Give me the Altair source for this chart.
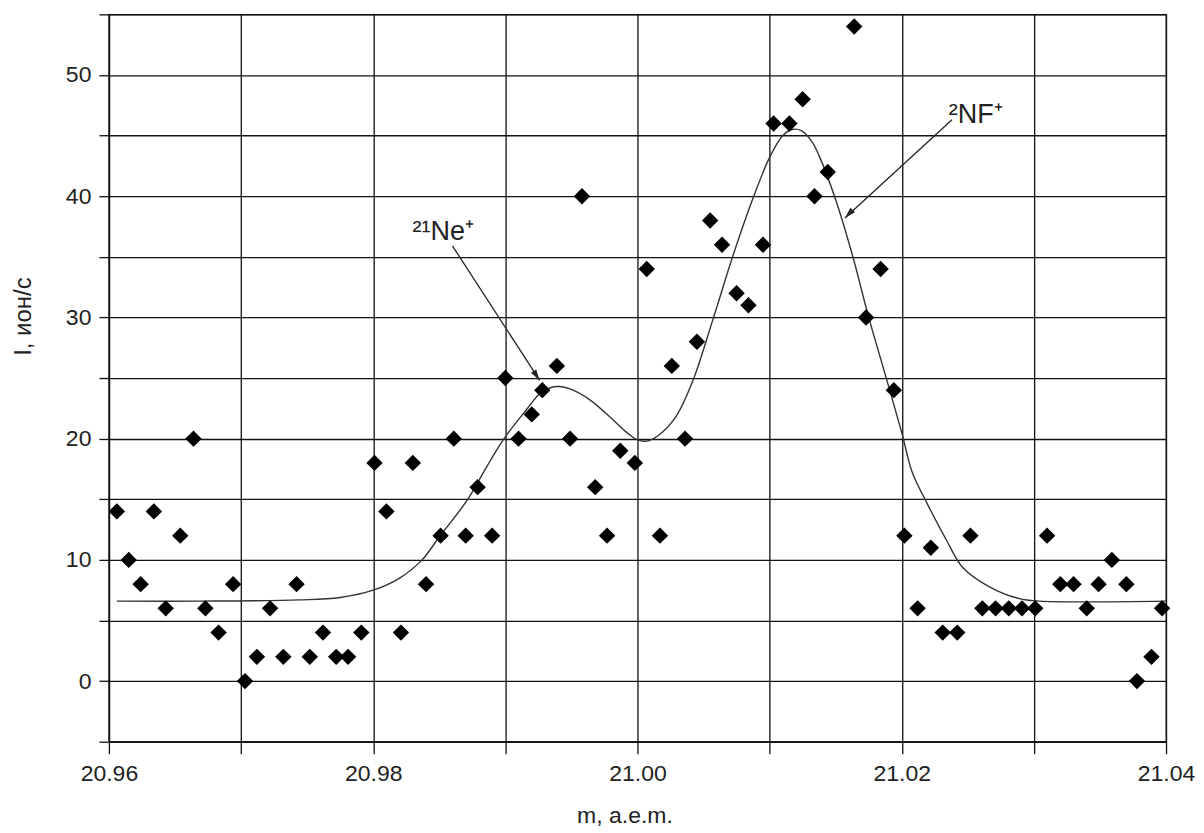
import altair as alt
import pandas as pd

# measured points (m, a.e.m. ; I, ion/s)
m_points = [20.9606, 20.9615, 20.9624, 20.9634, 20.9643, 20.9654, 20.9664, 20.9673, 20.9683, 20.9694,
            20.9703, 20.9712, 20.9722, 20.9732, 20.9742, 20.9752, 20.9762, 20.9772, 20.9781, 20.9791,
            20.9801, 20.9810, 20.9821, 20.9830, 20.9840, 20.9851, 20.9861, 20.9870, 20.9879, 20.9890,
            20.9900, 20.9910, 20.9920, 20.9928, 20.9939, 20.9949, 20.9958, 20.9968, 20.9977, 20.9987,
            20.9998, 21.0007, 21.0017, 21.0026, 21.0036, 21.0045, 21.0055, 21.0064, 21.0075, 21.0084,
            21.0095, 21.0103, 21.0115, 21.0125, 21.0134, 21.0144, 21.0164, 21.0173, 21.0184, 21.0194,
            21.0202, 21.0212, 21.0222, 21.0231, 21.0242, 21.0252, 21.0261, 21.0271, 21.0281, 21.0291,
            21.0301, 21.0310, 21.0320, 21.0330, 21.0340, 21.0349, 21.0359, 21.0370, 21.0378, 21.0389,
            21.0397]
I_points = [14, 10, 8, 14, 6, 12, 20, 6, 4, 8,
            0, 2, 6, 2, 8, 2, 4, 2, 2, 4,
            18, 14, 4, 18, 8, 12, 20, 12, 16, 12,
            25, 20, 22, 24, 26, 20, 40, 16, 12, 19,
            18, 34, 12, 26, 20, 28, 38, 36, 32, 31,
            36, 46, 46, 48, 40, 42, 54, 30, 34, 24,
            12, 6, 11, 4, 4, 12, 6, 6, 6, 6,
            6, 12, 8, 8, 6, 8, 10, 8, 0, 2,
            6]

# fitted curve
m_curve = [20.9606, 20.9669, 20.9744, 20.9775, 20.9800, 20.9820, 20.9837, 20.9850, 20.9871, 20.9886,
           20.9899, 20.9916, 20.9926, 20.9934, 20.9941, 20.9949, 20.9964, 20.9979, 20.9992, 21.0000,
           21.0007, 21.0015, 21.0029, 21.0042, 21.0057, 21.0072, 21.0087, 21.0100, 21.0110, 21.0117,
           21.0124, 21.0132, 21.0138, 21.0150, 21.0163, 21.0175, 21.0188, 21.0200, 21.0208, 21.0219,
           21.0234, 21.0246, 21.0266, 21.0289, 21.0304, 21.0400]
I_curve = [6.6, 6.6, 6.7, 6.9, 7.5, 8.5, 10.0, 11.9, 14.9, 17.7,
           20.0, 22.4, 23.7, 24.2, 24.3, 24.1, 23.2, 21.8, 20.5, 19.9,
           19.8, 20.2, 21.8, 24.8, 29.8, 35.0, 39.7, 43.2, 45.0, 45.5,
           45.4, 44.5, 43.2, 39.7, 35.0, 30.0, 25.1, 20.5, 17.2, 14.7,
           11.6, 9.4, 7.8, 6.8, 6.6, 6.6]

# annotations
ann_labels = ["²¹Ne⁺", "²NF⁺"]
ann_text_m = [20.9853, 21.0256]
ann_text_I = [36.4, 46.0]
ann_start_m = [20.9860, 21.0238]
ann_start_I = [35.9, 46.3]
ann_end_m = [20.9926, 21.0157]
ann_end_I = [24.8, 38.2]
ann_angle = [147, 224]

x_ticks = [20.96, 20.97, 20.98, 20.99, 21.00, 21.01, 21.02, 21.03, 21.04]
y_ticks = [-5, 0, 5, 10, 15, 20, 25, 30, 35, 40, 45, 50, 55]

FONT = "Liberation Sans"

pts = pd.DataFrame({"m": m_points, "I": I_points})
crv = pd.DataFrame({"m": m_curve, "I": I_curve})
ann = pd.DataFrame({"label": ann_labels, "tm": ann_text_m, "tI": ann_text_I,
                    "m0": ann_start_m, "I0": ann_start_I, "m1": ann_end_m, "I1": ann_end_I,
                    "angle": ann_angle})

xscale = alt.Scale(domain=[20.96, 21.04], nice=False, zero=False)
yscale = alt.Scale(domain=[-5, 55], nice=False, zero=False)

xaxis = alt.Axis(values=x_ticks, title="m, a.e.m.",
                 labelExpr="round(datum.value*100) % 2 == 0 ? format(datum.value, '.2f') : ''",
                 labelFlush=False, labelOverlap=False,
                 grid=True, gridColor="#111", gridWidth=1.3, gridOpacity=1,
                 domainColor="#111", domainWidth=1.5, tickColor="#111", tickWidth=1.3,
                 tickSize=12, labelPadding=9, labelFontSize=23, labelFont=FONT, labelColor="#222",
                 titleFont=FONT, titleFontSize=23, titleFontWeight="normal", titleColor="#222",
                 titlePadding=19, titleX=516)
yaxis = alt.Axis(values=y_ticks, title="I, ион/с",
                 labelExpr="datum.value % 10 == 0 ? datum.value : ''",
                 labelFlush=False, labelOverlap=False,
                 grid=True, gridColor="#111", gridWidth=1.3, gridOpacity=1,
                 domainColor="#111", domainWidth=1.5, tickColor="#111", tickWidth=1.3,
                 tickSize=10, labelPadding=8, labelFontSize=23, labelFont=FONT, labelColor="#222",
                 titleFont=FONT, titleFontSize=24, titleFontWeight="normal", titleColor="#222",
                 titlePadding=30, titleY=302)

base_x = alt.X("m:Q", scale=xscale, axis=xaxis)
base_y = alt.Y("I:Q", scale=yscale, axis=yaxis)

points = alt.Chart(pts).mark_point(shape="diamond", filled=True, color="#000", size=270, opacity=1).encode(
    x=base_x, y=base_y)

curve = alt.Chart(crv).mark_line(color="#333", strokeWidth=1.4, interpolate="catmull-rom").encode(
    x=alt.X("m:Q", scale=xscale), y=alt.Y("I:Q", scale=yscale))

arrows = alt.Chart(ann).mark_rule(color="#222", strokeWidth=1.3).encode(
    x=alt.X("m0:Q", scale=xscale), y=alt.Y("I0:Q", scale=yscale),
    x2="m1:Q", y2="I1:Q")

heads = alt.Chart(ann).mark_point(shape="M0,0 L0.28,1 L-0.28,1 Z", filled=True, color="#222",
                                  size=500, opacity=1).encode(
    x=alt.X("m1:Q", scale=xscale), y=alt.Y("I1:Q", scale=yscale),
    angle=alt.Angle("angle:Q", scale=None))

labels = alt.Chart(ann).mark_text(font=FONT, fontSize=27, color="#222", align="center",
                                  baseline="alphabetic").encode(
    x=alt.X("tm:Q", scale=xscale), y=alt.Y("tI:Q", scale=yscale), text="label:N")

chart = alt.layer(curve, points, arrows, heads, labels).properties(
    width=1058, height=728,
    autosize=alt.AutoSizeParams(type="none"),
    padding={"left": 101, "top": 6, "right": 30, "bottom": 90},
).configure_view(stroke="#111", strokeWidth=1.3)

chart.save("out.html", embed_options={"renderer": "svg", "actions": False})
